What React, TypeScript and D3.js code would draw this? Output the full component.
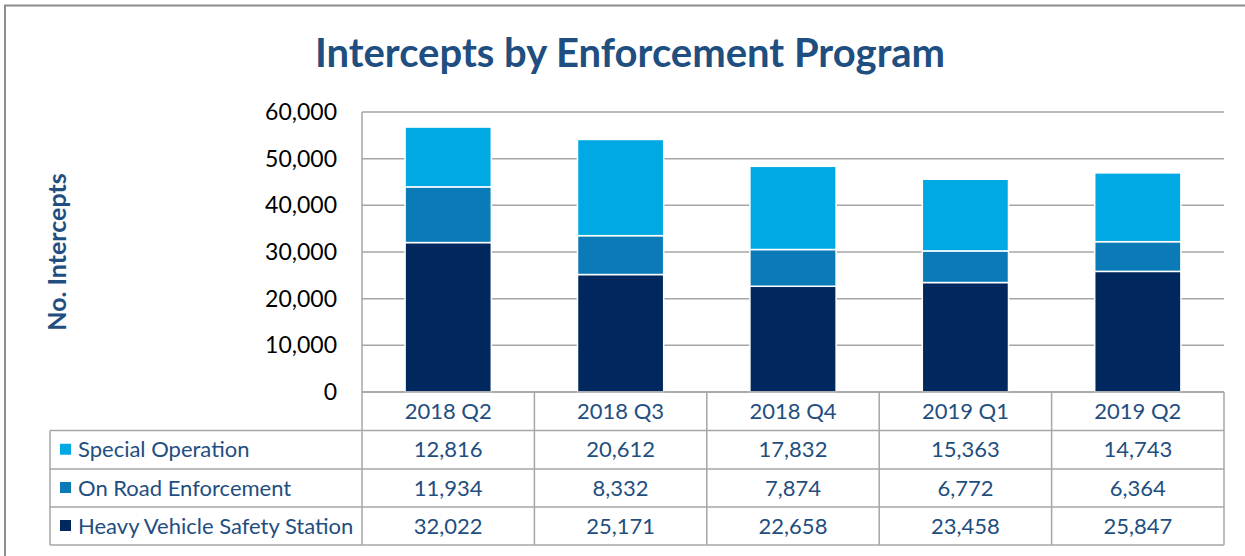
import React from "react";
import * as d3 from "d3";

const categories = ["2018 Q2", "2018 Q3", "2018 Q4", "2019 Q1", "2019 Q2"];
const seriesNames = ["Special Operation", "On Road Enforcement", "Heavy Vehicle Safety Station"];
const specialOperation = [12816, 20612, 17832, 15363, 14743];
const onRoadEnforcement = [11934, 8332, 7874, 6772, 6364];
const heavyVehicle = [32022, 25171, 22658, 23458, 25847];
const yTicks = [0, 10000, 20000, 30000, 40000, 50000, 60000];

const colors = ["#00A9E4", "#0B7BB8", "#00285F"];
const textBlue = "#1F4E80";
const gridGrey = "#A6A6A6";
const FONT = "Lato, 'Open Sans', sans-serif";

export default function App() {
  const W = 1245, H = 556;
  const plotLeft = 362, plotRight = 1224, plotTop = 112, plotBottom = 392;
  const tableLeft = 50;
  const rowH = [392, 430.5, 469, 507, 545];

  const x = d3.scaleBand().domain(categories).range([plotLeft, plotRight]).paddingInner(0.5).paddingOuter(0.25);
  const xCol = d3.scaleBand().domain(categories).range([plotLeft, plotRight]);
  const y = d3.scaleLinear().domain([0, 60000]).range([plotBottom, plotTop]);
  const fmt = d3.format(",");

  const rows = categories.map((c, i) => ({
    cat: c,
    heavy: heavyVehicle[i],
    onroad: onRoadEnforcement[i],
    special: specialOperation[i],
  }));
  const stack = d3.stack<any>().keys(["heavy", "onroad", "special"]);
  const stacked = stack(rows);
  const keyColor: Record<string, string> = { heavy: colors[2], onroad: colors[1], special: colors[0] };

  const tableSeries = [specialOperation, onRoadEnforcement, heavyVehicle];

  return (
    <div style={{ position: "fixed", left: 0, top: 0 }}>
      <svg width={W} height={H} style={{ display: "block", background: "#fff" }}>
        <rect x={5} y={5.5} width={W + 20} height={H + 20} fill="#fff" stroke="#8C8C8C" strokeWidth={2} />
        <text x={630} y={67} textAnchor="middle" fontFamily={FONT} fontWeight={700} fontSize={40} fill={textBlue}>
          Intercepts by Enforcement Program
        </text>
        <text
          transform={`translate(66,252) rotate(-90)`}
          textAnchor="middle"
          fontFamily={FONT}
          fontWeight={700}
          fontSize={25}
          fill={textBlue}
        >
          No. Intercepts
        </text>
        {yTicks.map((t) => (
          <line key={t} x1={plotLeft} x2={plotRight} y1={y(t)} y2={y(t)} stroke={gridGrey} strokeWidth={1.5} />
        ))}
        <line x1={plotLeft} x2={plotLeft} y1={plotTop} y2={plotBottom} stroke={gridGrey} strokeWidth={1.5} />
        {yTicks.map((t) => (
          <text key={"l" + t} x={337} y={y(t) + 8} textAnchor="end" fontFamily={FONT} fontSize={23} fill="#000">
            {fmt(t)}
          </text>
        ))}
        {stacked.map((s) =>
          s.map((d, i) => (
            <rect
              key={s.key + i}
              x={x(categories[i])!}
              y={y(d[1])}
              width={x.bandwidth()}
              height={y(d[0]) - y(d[1])}
              fill={keyColor[s.key]}
              stroke="#fff"
              strokeWidth={1.5}
            />
          ))
        )}
        <g stroke={gridGrey} strokeWidth={1.5} fill="none">
          <line x1={plotLeft} x2={plotRight} y1={rowH[0]} y2={rowH[0]} />
          {rowH.slice(1).map((r, i) => (
            <line key={i} x1={tableLeft} x2={plotRight} y1={r} y2={r} />
          ))}
          <line x1={tableLeft} x2={tableLeft} y1={rowH[1]} y2={rowH[4]} />
          {categories.map((c) => (
            <line key={c} x1={xCol(c)!} x2={xCol(c)!} y1={rowH[0]} y2={rowH[4]} />
          ))}
          <line x1={plotRight} x2={plotRight} y1={rowH[0]} y2={rowH[4]} />
        </g>
        {categories.map((c) => (
          <text
            key={"h" + c}
            x={xCol(c)! + xCol.bandwidth() / 2}
            y={(rowH[0] + rowH[1]) / 2 + 7.5}
            textAnchor="middle"
            fontFamily={FONT}
            fontSize={22}
            fill={textBlue}
          >
            {c}
          </text>
        ))}
        {seriesNames.map((n, r) => {
          const cy = (rowH[r + 1] + rowH[r + 2]) / 2;
          return (
            <g key={n}>
              <rect x={60} y={cy - 6} width={11} height={11} fill={colors[r]} />
              <text x={78} y={cy + 7.5} fontFamily={FONT} fontSize={22} fill={textBlue}>
                {n}
              </text>
              {categories.map((c, i) => (
                <text
                  key={c}
                  x={xCol(c)! + xCol.bandwidth() / 2}
                  y={cy + 7.5}
                  textAnchor="middle"
                  fontFamily={FONT}
                  fontSize={22}
                  fill={textBlue}
                >
                  {fmt(tableSeries[r][i])}
                </text>
              ))}
            </g>
          );
        })}
      </svg>
    </div>
  );
}
